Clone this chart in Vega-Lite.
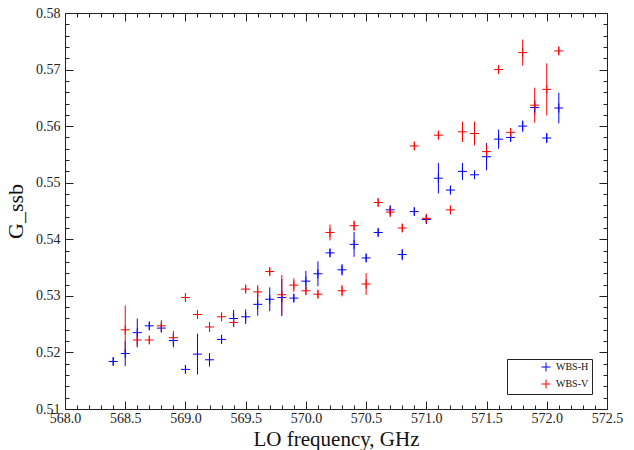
{
  "$schema": "https://vega.github.io/schema/vega-lite/v6.json",
  "width": 542,
  "height": 396,
  "autosize": {"type": "none"},
  "padding": {"left": 65, "top": 13, "right": 27, "bottom": 41},
  "background": "white",
  "config": {
    "view": {"stroke": "#222", "strokeWidth": 1},
    "font": "Liberation Serif"
  },
  "data": {
    "values": [
      {"f": 568.4, "g": 0.5184, "e": 0.0007, "s": "WBS-H"},
      {"f": 568.5, "g": 0.5198, "e": 0.0022, "s": "WBS-H"},
      {"f": 568.6, "g": 0.5235, "e": 0.0025, "s": "WBS-H"},
      {"f": 568.7, "g": 0.5247, "e": 0.0007, "s": "WBS-H"},
      {"f": 568.8, "g": 0.5243, "e": 0.0007, "s": "WBS-H"},
      {"f": 568.9, "g": 0.5221, "e": 0.0012, "s": "WBS-H"},
      {"f": 569.0, "g": 0.5170, "e": 0.0007, "s": "WBS-H"},
      {"f": 569.1, "g": 0.5197, "e": 0.0036, "s": "WBS-H"},
      {"f": 569.2, "g": 0.5187, "e": 0.0012, "s": "WBS-H"},
      {"f": 569.3, "g": 0.5223, "e": 0.0008, "s": "WBS-H"},
      {"f": 569.4, "g": 0.5260, "e": 0.0015, "s": "WBS-H"},
      {"f": 569.5, "g": 0.5263, "e": 0.0013, "s": "WBS-H"},
      {"f": 569.6, "g": 0.5285, "e": 0.0020, "s": "WBS-H"},
      {"f": 569.7, "g": 0.5294, "e": 0.0021, "s": "WBS-H"},
      {"f": 569.8, "g": 0.5297, "e": 0.0033, "s": "WBS-H"},
      {"f": 569.9, "g": 0.5296, "e": 0.0007, "s": "WBS-H"},
      {"f": 570.0, "g": 0.5326, "e": 0.0018, "s": "WBS-H"},
      {"f": 570.1, "g": 0.5339, "e": 0.0022, "s": "WBS-H"},
      {"f": 570.2, "g": 0.5376, "e": 0.0007, "s": "WBS-H"},
      {"f": 570.3, "g": 0.5346, "e": 0.0010, "s": "WBS-H"},
      {"f": 570.4, "g": 0.5391, "e": 0.0022, "s": "WBS-H"},
      {"f": 570.5, "g": 0.5367, "e": 0.0007, "s": "WBS-H"},
      {"f": 570.6, "g": 0.5412, "e": 0.0007, "s": "WBS-H"},
      {"f": 570.7, "g": 0.5452, "e": 0.0007, "s": "WBS-H"},
      {"f": 570.8, "g": 0.5373, "e": 0.0010, "s": "WBS-H"},
      {"f": 570.9, "g": 0.5449, "e": 0.0007, "s": "WBS-H"},
      {"f": 571.0, "g": 0.5435, "e": 0.0007, "s": "WBS-H"},
      {"f": 571.1, "g": 0.5508, "e": 0.0027, "s": "WBS-H"},
      {"f": 571.2, "g": 0.5487, "e": 0.0007, "s": "WBS-H"},
      {"f": 571.3, "g": 0.5520, "e": 0.0015, "s": "WBS-H"},
      {"f": 571.4, "g": 0.5514, "e": 0.0007, "s": "WBS-H"},
      {"f": 571.5, "g": 0.5546, "e": 0.0024, "s": "WBS-H"},
      {"f": 571.6, "g": 0.5577, "e": 0.0017, "s": "WBS-H"},
      {"f": 571.7, "g": 0.5580, "e": 0.0007, "s": "WBS-H"},
      {"f": 571.8, "g": 0.5600, "e": 0.0010, "s": "WBS-H"},
      {"f": 571.9, "g": 0.5633, "e": 0.0013, "s": "WBS-H"},
      {"f": 572.0, "g": 0.5579, "e": 0.0009, "s": "WBS-H"},
      {"f": 572.1, "g": 0.5632, "e": 0.0027, "s": "WBS-H"},
      {"f": 568.5, "g": 0.5240, "e": 0.0043, "s": "WBS-V"},
      {"f": 568.6, "g": 0.5222, "e": 0.0013, "s": "WBS-V"},
      {"f": 568.7, "g": 0.5222, "e": 0.0007, "s": "WBS-V"},
      {"f": 568.8, "g": 0.5247, "e": 0.0010, "s": "WBS-V"},
      {"f": 568.9, "g": 0.5226, "e": 0.0012, "s": "WBS-V"},
      {"f": 569.0, "g": 0.5297, "e": 0.0007, "s": "WBS-V"},
      {"f": 569.1, "g": 0.5267, "e": 0.0007, "s": "WBS-V"},
      {"f": 569.2, "g": 0.5245, "e": 0.0009, "s": "WBS-V"},
      {"f": 569.3, "g": 0.5263, "e": 0.0007, "s": "WBS-V"},
      {"f": 569.4, "g": 0.5253, "e": 0.0007, "s": "WBS-V"},
      {"f": 569.5, "g": 0.5312, "e": 0.0007, "s": "WBS-V"},
      {"f": 569.6, "g": 0.5307, "e": 0.0012, "s": "WBS-V"},
      {"f": 569.7, "g": 0.5343, "e": 0.0007, "s": "WBS-V"},
      {"f": 569.8, "g": 0.5302, "e": 0.0035, "s": "WBS-V"},
      {"f": 569.9, "g": 0.5319, "e": 0.0012, "s": "WBS-V"},
      {"f": 570.0, "g": 0.5309, "e": 0.0007, "s": "WBS-V"},
      {"f": 570.1, "g": 0.5303, "e": 0.0007, "s": "WBS-V"},
      {"f": 570.2, "g": 0.5412, "e": 0.0014, "s": "WBS-V"},
      {"f": 570.3, "g": 0.5309, "e": 0.0010, "s": "WBS-V"},
      {"f": 570.4, "g": 0.5424, "e": 0.0009, "s": "WBS-V"},
      {"f": 570.5, "g": 0.5321, "e": 0.0019, "s": "WBS-V"},
      {"f": 570.6, "g": 0.5465, "e": 0.0007, "s": "WBS-V"},
      {"f": 570.7, "g": 0.5448, "e": 0.0008, "s": "WBS-V"},
      {"f": 570.8, "g": 0.5420, "e": 0.0007, "s": "WBS-V"},
      {"f": 570.9, "g": 0.5565, "e": 0.0007, "s": "WBS-V"},
      {"f": 571.0, "g": 0.5437, "e": 0.0007, "s": "WBS-V"},
      {"f": 571.1, "g": 0.5584, "e": 0.0007, "s": "WBS-V"},
      {"f": 571.2, "g": 0.5452, "e": 0.0007, "s": "WBS-V"},
      {"f": 571.3, "g": 0.5590, "e": 0.0018, "s": "WBS-V"},
      {"f": 571.4, "g": 0.5587, "e": 0.0021, "s": "WBS-V"},
      {"f": 571.5, "g": 0.5555, "e": 0.0012, "s": "WBS-V"},
      {"f": 571.6, "g": 0.5700, "e": 0.0007, "s": "WBS-V"},
      {"f": 571.7, "g": 0.5589, "e": 0.0007, "s": "WBS-V"},
      {"f": 571.8, "g": 0.5730, "e": 0.0023, "s": "WBS-V"},
      {"f": 571.9, "g": 0.5637, "e": 0.0031, "s": "WBS-V"},
      {"f": 572.0, "g": 0.5665, "e": 0.0046, "s": "WBS-V"},
      {"f": 572.1, "g": 0.5733, "e": 0.0007, "s": "WBS-V"}
    ]
  },
  "encoding": {
    "x": {
      "field": "f",
      "type": "quantitative",
      "scale": {"domain": [568, 572.5], "nice": false, "zero": false},
      "axis": {
        "title": "LO frequency, GHz",
        "values": [568.0, 568.1, 568.2, 568.3, 568.4, 568.5, 568.6, 568.7, 568.8, 568.9, 569.0, 569.1, 569.2, 569.3, 569.4, 569.5, 569.6, 569.7, 569.8, 569.9, 570.0, 570.1, 570.2, 570.3, 570.4, 570.5, 570.6, 570.7, 570.8, 570.9, 571.0, 571.1, 571.2, 571.3, 571.4, 571.5, 571.6, 571.7, 571.8, 571.9, 572.0, 572.1, 572.2, 572.3, 572.4, 572.5],
        "labelExpr": "round(datum.value*10) % 5 === 0 ? format(datum.value, '.1f') : ''",
        "domain": false,
        "ticks": false,
        "grid": true,
        "gridColor": "#222",
        "gridOpacity": 1,
        "gridWidth": 1,
        "gridDash": {"condition": {"test": "round(datum.value*10) % 5 === 0", "value": [8, 380]}, "value": [4, 388]},
        "labelFont": "Liberation Serif",
        "labelFontSize": 14,
        "labelColor": "#222",
        "labelPadding": 2,
        "labelFlush": false,
        "labelOverlap": false,
        "titleFont": "Liberation Serif",
        "titleFontSize": 21,
        "titleFontWeight": "normal",
        "titleColor": "#111",
        "titlePadding": 3
      }
    },
    "y": {
      "field": "g",
      "type": "quantitative",
      "scale": {"domain": [0.51, 0.58], "nice": false, "zero": false},
      "axis": {
        "title": "G_ssb",
        "values": [0.510, 0.512, 0.514, 0.516, 0.518, 0.520, 0.522, 0.524, 0.526, 0.528, 0.530, 0.532, 0.534, 0.536, 0.538, 0.540, 0.542, 0.544, 0.546, 0.548, 0.550, 0.552, 0.554, 0.556, 0.558, 0.560, 0.562, 0.564, 0.566, 0.568, 0.570, 0.572, 0.574, 0.576, 0.578, 0.580],
        "labelExpr": "round(datum.value*1000) % 10 === 0 ? format(datum.value, '.2f') : ''",
        "domain": false,
        "ticks": false,
        "grid": true,
        "gridColor": "#222",
        "gridOpacity": 1,
        "gridWidth": 1,
        "gridDash": {"condition": {"test": "round(datum.value*1000) % 10 === 0", "value": [8, 526]}, "value": [4, 534]},
        "labelFont": "Liberation Serif",
        "labelFontSize": 14,
        "labelColor": "#222",
        "labelPadding": 5,
        "labelFlush": false,
        "labelOverlap": false,
        "titleFont": "Liberation Serif",
        "titleFontSize": 22,
        "titleFontWeight": "normal",
        "titleColor": "#111",
        "titlePadding": 8
      }
    },
    "color": {
      "field": "s",
      "type": "nominal",
      "scale": {"domain": ["WBS-H", "WBS-V"], "range": ["#0000ff", "#ff0000"]},
      "legend": {
        "title": null,
        "orient": "bottom-right",
        "offset": 15,
        "strokeColor": "#222",
        "fillColor": "white",
        "padding": 3,
        "symbolType": "M-1,0H1M0,-1V1",
        "symbolSize": 81,
        "symbolStrokeWidth": 1,
        "symbolFillColor": "transparent",
        "symbolOffset": 31,
        "labelFont": "Liberation Serif",
        "labelFontSize": 10,
        "labelColor": "#111",
        "rowPadding": 3,
        "labelOffset": 5
      }
    }
  },
  "layer": [
    {
      "mark": {"type": "errorbar", "thickness": 1},
      "encoding": {"yError": {"field": "e"}}
    },
    {
      "mark": {"type": "point", "shape": "M-1,0H1M0,-1V1", "filled": false, "size": 81, "strokeWidth": 1, "opacity": 1}
    }
  ]
}
